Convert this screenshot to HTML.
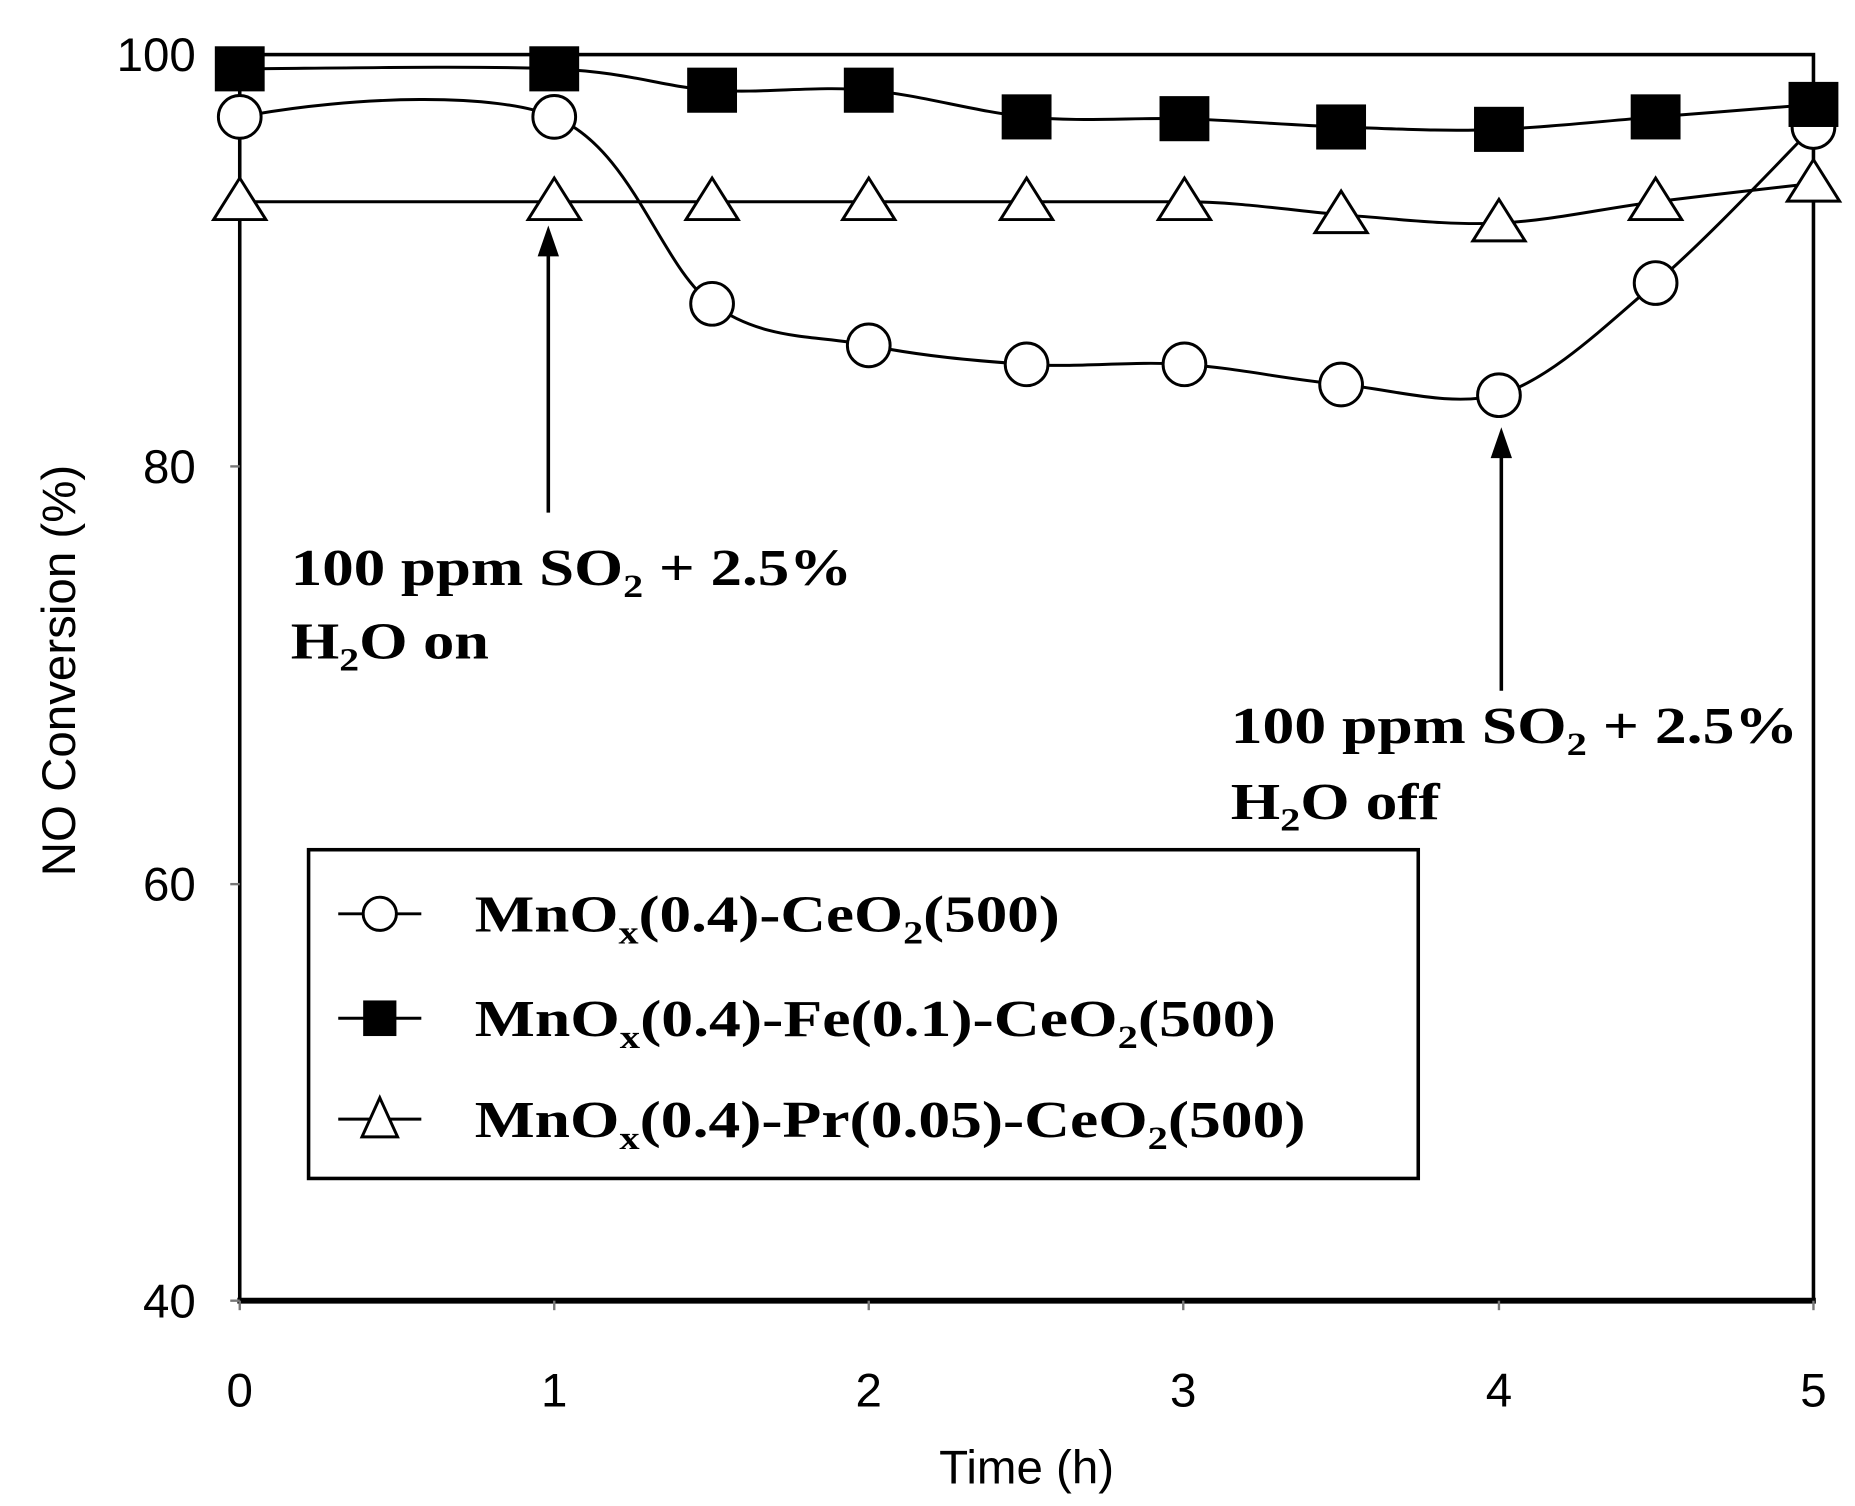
<!DOCTYPE html>
<html><head><meta charset="utf-8"><style>html,body{margin:0;padding:0;background:#fff}svg{display:block}</style></head>
<body>
<svg width="1855" height="1506" viewBox="0 0 1563 1269" preserveAspectRatio="none" xmlns="http://www.w3.org/2000/svg">
<rect x="0" y="0" width="1563" height="1269" fill="#fff"/>
<rect x="202" y="46" width="1326" height="1050" fill="none" stroke="#000" stroke-width="3"/>
<line x1="200" y1="1096" x2="1530" y2="1096" stroke="#000" stroke-width="5"/>
<g stroke="#777" stroke-width="2">
<line x1="194" y1="46" x2="202" y2="46"/><line x1="194" y1="393" x2="202" y2="393"/><line x1="194" y1="745" x2="202" y2="745"/><line x1="194" y1="1096" x2="202" y2="1096"/>
<line x1="202" y1="1096" x2="202" y2="1104"/><line x1="467" y1="1096" x2="467" y2="1104"/><line x1="732" y1="1096" x2="732" y2="1104"/><line x1="997" y1="1096" x2="997" y2="1104"/><line x1="1263" y1="1096" x2="1263" y2="1104"/><line x1="1528" y1="1096" x2="1528" y2="1104"/>
</g>
<g font-family="Liberation Sans, sans-serif" font-size="40" fill="#000">
<text x="165" y="60" text-anchor="end">100</text>
<text x="165" y="407" text-anchor="end">80</text>
<text x="165" y="759" text-anchor="end">60</text>
<text x="165" y="1110" text-anchor="end">40</text>
<g text-anchor="middle">
<text x="202" y="1185">0</text><text x="467" y="1185">1</text><text x="732" y="1185">2</text><text x="997" y="1185">3</text><text x="1263" y="1185">4</text><text x="1528" y="1185">5</text>
</g>
<text x="865" y="1250" text-anchor="middle">Time (h)</text>
<text transform="translate(63,565) rotate(-90)" text-anchor="middle">NO Conversion (%)</text>
</g>
<g fill="none" stroke="#000" stroke-width="2.5">
<path d="M202,58 C246,58 401,55 467,58 C533,61 556,73 600,76 C644,79 688,72 732,76 C776,80 821,94 865,98.5 C909,103 954,99 998,100 C1042,101.5 1086,105.5 1130,107 C1174,108.5 1219,111 1263,109 C1307,107 1351,102 1395,98.5 C1439,95 1506,90 1528,88"/>
<path d="M202,98.5 C300,80 420,78 467,98.5 C533,125 556,224 600,256 C644,288 688,282 732,291 C776,300 821,304 865,307 C909,310 954,304 998,307 C1042,310 1086,320 1130,324 C1174,328 1219,343 1263,333 C1307,319 1351,276 1395,238.5 C1439,201 1506,129 1528,107"/>
<path d="M202,170 L998,170 C1042,170 1086,177 1130,181 C1174,184 1219,190 1263,188 C1307,186 1351,175.5 1395,170 C1439,164.5 1506,157 1528,154.5"/>
</g>
<g fill="#fff" stroke="#000" stroke-width="2.5">
<polygon points="202,150 180,185 224,185"/>
<polygon points="467,150 445,185 489,185"/>
<polygon points="600,150 578,185 622,185"/>
<polygon points="732,150 710,185 754,185"/>
<polygon points="865,150 843,185 887,185"/>
<polygon points="998,150 976,185 1020,185"/>
<polygon points="1130,161 1108,196 1152,196"/>
<polygon points="1263,168 1241,203 1285,203"/>
<polygon points="1395,150 1373,185 1417,185"/>
<polygon points="1528,134.5 1506,169.5 1550,169.5"/>
<circle cx="202" cy="98.5" r="18"/>
<circle cx="467" cy="98.5" r="18"/>
<circle cx="600" cy="256" r="18"/>
<circle cx="732" cy="291" r="18"/>
<circle cx="865" cy="307" r="18"/>
<circle cx="998" cy="307" r="18"/>
<circle cx="1130" cy="324" r="18"/>
<circle cx="1263" cy="333" r="18"/>
<circle cx="1395" cy="238.5" r="18"/>
<circle cx="1528" cy="107" r="18"/>
</g>
<g fill="#000">
<rect x="181" y="39" width="42" height="38"/>
<rect x="446" y="39" width="42" height="38"/>
<rect x="579" y="57" width="42" height="38"/>
<rect x="711" y="57" width="42" height="38"/>
<rect x="844" y="79.5" width="42" height="38"/>
<rect x="977" y="81" width="42" height="38"/>
<rect x="1109" y="88" width="42" height="38"/>
<rect x="1242" y="90" width="42" height="38"/>
<rect x="1374" y="79.5" width="42" height="38"/>
<rect x="1507" y="69" width="42" height="38"/>
</g>
<line x1="462" y1="215" x2="462" y2="432" stroke="#000" stroke-width="3"/>
<polygon points="462,190 453,216 471,216" fill="#000"/>
<line x1="1265" y1="385" x2="1265" y2="582" stroke="#000" stroke-width="3"/>
<polygon points="1265,360 1256,386 1274,386" fill="#000"/>
<g font-family="Liberation Serif, serif" font-weight="bold" font-size="44" fill="#000">
<text x="245" y="493" textLength="473" lengthAdjust="spacingAndGlyphs">100 ppm SO<tspan font-size="28" dy="10">2</tspan><tspan dy="-10"> + 2.5%</tspan></text>
<text x="245" y="555" textLength="167" lengthAdjust="spacingAndGlyphs">H<tspan font-size="28" dy="10">2</tspan><tspan dy="-10">O on</tspan></text>
<text x="1037" y="626" textLength="478" lengthAdjust="spacingAndGlyphs">100 ppm SO<tspan font-size="28" dy="10">2</tspan><tspan dy="-10"> + 2.5%</tspan></text>
<text x="1037" y="690" textLength="176" lengthAdjust="spacingAndGlyphs">H<tspan font-size="28" dy="10">2</tspan><tspan dy="-10">O off</tspan></text>
</g>
<rect x="260" y="716" width="935" height="277" fill="#fff" stroke="#000" stroke-width="3"/>
<g stroke="#000" stroke-width="2.5">
<line x1="285" y1="770" x2="355" y2="770"/><line x1="285" y1="858" x2="355" y2="858"/><line x1="285" y1="943" x2="355" y2="943"/>
</g>
<circle cx="320" cy="770" r="14" fill="#fff" stroke="#000" stroke-width="2.5"/>
<rect x="306" y="843" width="28" height="30" fill="#000"/>
<polygon points="320,925 305,958 335,958" fill="#fff" stroke="#000" stroke-width="2.5"/>
<g font-family="Liberation Serif, serif" font-weight="bold" font-size="44" fill="#000">
<text x="400" y="785" textLength="493" lengthAdjust="spacingAndGlyphs">MnO<tspan font-size="28" dy="10">x</tspan><tspan dy="-10">(0.4)-CeO</tspan><tspan font-size="28" dy="10">2</tspan><tspan dy="-10">(500)</tspan></text>
<text x="400" y="873" textLength="675" lengthAdjust="spacingAndGlyphs">MnO<tspan font-size="28" dy="10">x</tspan><tspan dy="-10">(0.4)-Fe(0.1)-CeO</tspan><tspan font-size="28" dy="10">2</tspan><tspan dy="-10">(500)</tspan></text>
<text x="400" y="958" textLength="700" lengthAdjust="spacingAndGlyphs">MnO<tspan font-size="28" dy="10">x</tspan><tspan dy="-10">(0.4)-Pr(0.05)-CeO</tspan><tspan font-size="28" dy="10">2</tspan><tspan dy="-10">(500)</tspan></text>
</g>
</svg>
</body></html>
